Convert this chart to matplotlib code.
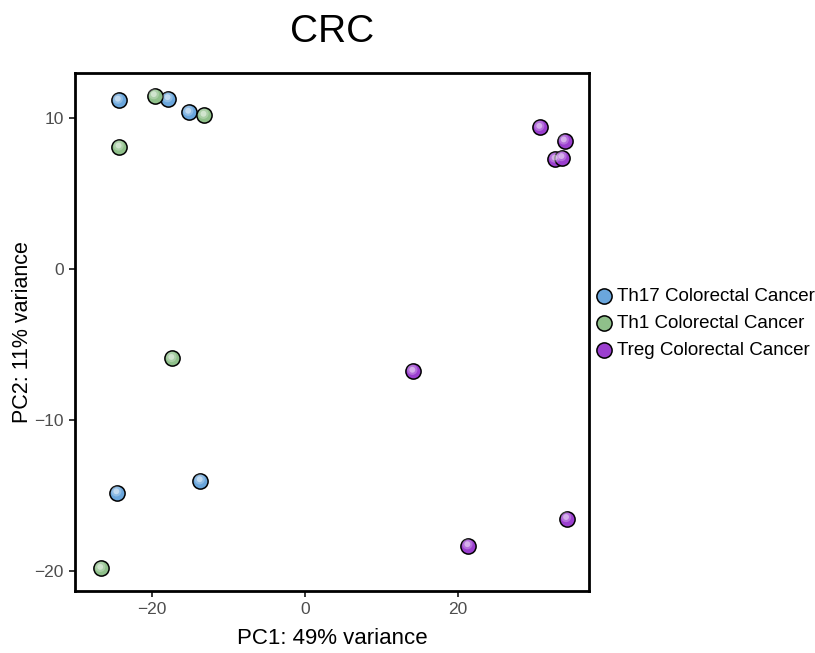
import matplotlib
matplotlib.use('Agg')
import matplotlib.pyplot as plt
import numpy as np

plt.rcParams['font.family'] = ['Liberation Sans', 'DejaVu Sans']

groups = ["Th17 Colorectal Cancer", "Th1 Colorectal Cancer", "Treg Colorectal Cancer"]
colors = ["#6aa6dc", "#8fc08a", "#9b3fcf"]

th17_pc1 = [-24.4, -17.9, -15.2, -24.6, -13.7]
th17_pc2 = [11.2, 11.3, 10.4, -14.8, -14.0]
th1_pc1 = [-19.7, -13.2, -24.3, -17.4, -26.7]
th1_pc2 = [11.5, 10.2, 8.1, -5.9, -19.8]
treg_pc1 = [30.7, 33.9, 32.7, 33.6, 14.1, 21.3, 34.2]
treg_pc2 = [9.4, 8.5, 7.3, 7.4, -6.75, -18.3, -16.5]

data = [(th17_pc1, th17_pc2), (th1_pc1, th1_pc2), (treg_pc1, treg_pc2)]

fig = plt.figure(figsize=(8.15, 6.53), dpi=100)
ax = fig.add_axes([75/815, 1 - 591/653, (589-75)/815, (591-73)/653])

for (x, y), c, g in zip(data, colors, groups):
    ax.scatter(x, y, s=120, c=c, edgecolors='black', linewidths=1.1, label=g, zorder=3)
    # soft lighter centre, like the shaded balls of the original
    ax.scatter(np.array(x) - 0.1, np.array(y) + 0.1, s=55, c='white', alpha=0.25,
               edgecolors='none', zorder=4)
    ax.scatter(np.array(x) - 0.1, np.array(y) + 0.1, s=18, c='white', alpha=0.45,
               edgecolors='none', zorder=5)

ax.set_xlim(-30.1, 37.1)
ax.set_ylim(-21.3, 13.0)
ax.set_xticks([-20, 0, 20])
ax.set_yticks([-20, -10, 0, 10])
ax.set_xticklabels(['\u221220', '0', '20'])
ax.set_yticklabels(['\u221220', '\u221210', '0', '10'])
ax.tick_params(direction='out', length=4.5, width=1.1, colors='black', labelcolor='#4d4d4d', labelsize=12.5)
for sp in ax.spines.values():
    sp.set_linewidth(2)

ax.set_xlabel("PC1: 49% variance", fontsize=16, labelpad=8)
ax.set_ylabel("PC2: 11% variance", fontsize=15.5, labelpad=1)
ax.set_title("CRC", fontsize=28, pad=22)

leg = ax.legend(loc='center left', bbox_to_anchor=(1.011, 0.517), frameon=False, fontsize=13.5,
                handlelength=1.0, handletextpad=0.2, labelspacing=0.52, borderaxespad=0,
                borderpad=0, markerscale=1.0)

fig.savefig('out.png', dpi=100)
